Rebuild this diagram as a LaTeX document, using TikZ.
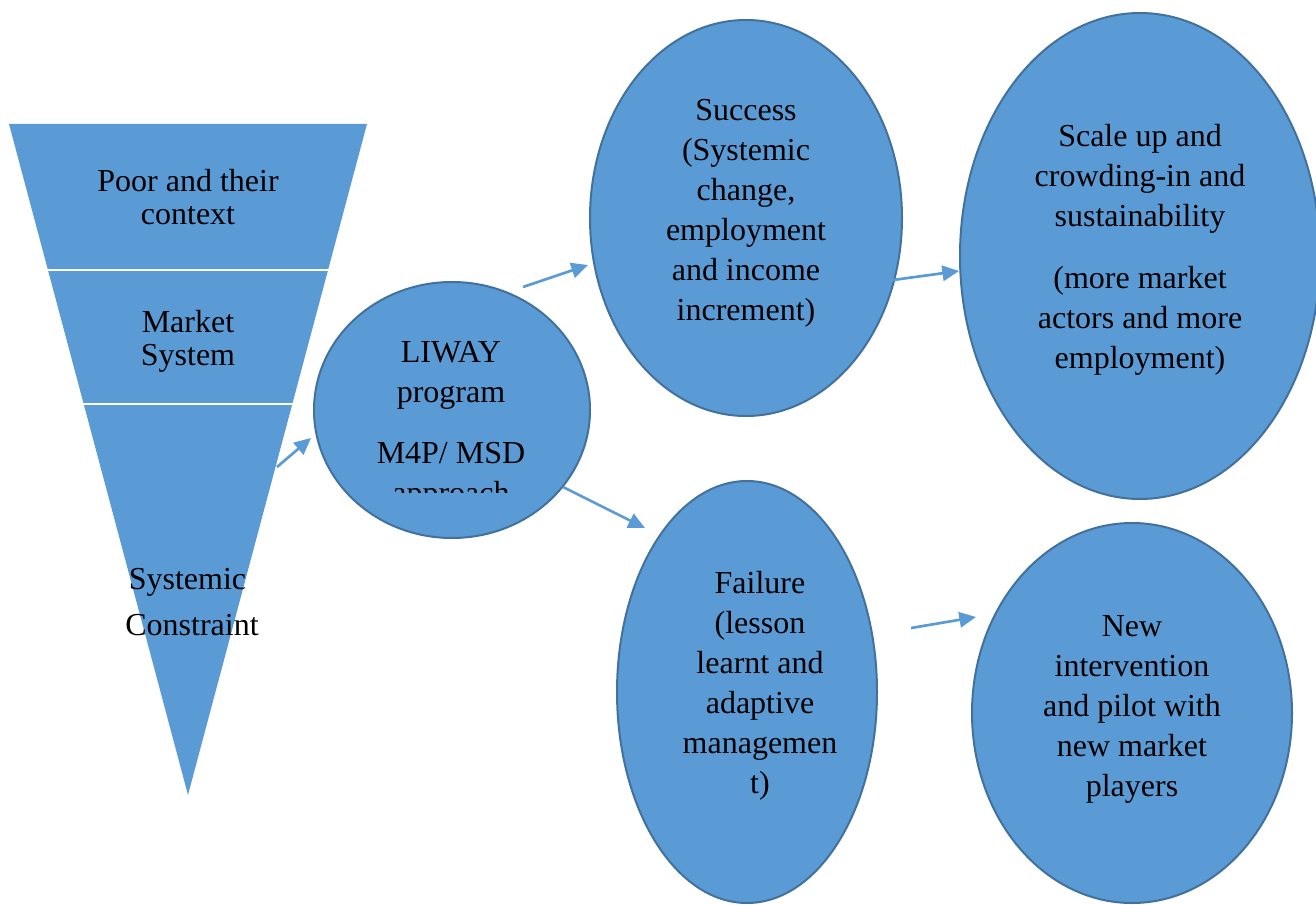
\documentclass[tikz,border=0pt]{standalone}
\usepackage{fontspec}
\setmainfont{Liberation Serif}
\usetikzlibrary{arrows.meta,shapes.geometric}
\definecolor{boxblue}{HTML}{5B9BD5}
\definecolor{edgeblue}{HTML}{41719C}
\tikzset{
  oval/.style={ellipse, draw=edgeblue, fill=boxblue, line width=1.5pt, inner sep=0pt},
  lbl/.style={align=center, inner sep=0pt, font=\fontsize{24pt}{30pt}\selectfont},
  tightlbl/.style={align=center, inner sep=0pt, font=\fontsize{24pt}{24.75pt}\selectfont},
  flow/.style={draw=boxblue, line width=2pt, -{Triangle[length=12.5pt,width=11.5pt]}}
}
\begin{document}
\begin{tikzpicture}[x=0.75pt,y=-0.75pt]
\useasboundingbox (0,0) rectangle (1316,905);
% funnel
\fill[boxblue] (9,124) -- (367,124) -- (188,795) -- cycle;
\draw[white, line width=1.6pt] (0,270) -- (345,270);
\draw[white, line width=1.6pt] (0,404) -- (300,404);
\node[tightlbl] (poor) at (188,197) {Poor and their\\context};
\node[tightlbl] (market) at (188,341) {Market\\System};
\node[lbl, anchor=base] (sys1) at (187.5,589) {Systemic};
\node[lbl, anchor=base] (sys2) at (192,635) {Constraint};
% ellipses
\node[oval, minimum width=207pt, minimum height=192pt] (liway) at (452,410) {};
\node[oval, minimum width=234pt, minimum height=297pt] (success) at (746,218) {};
\node[oval, minimum width=270pt, minimum height=364.5pt] (scale) at (1140,256) {};
\node[oval, minimum width=195pt, minimum height=316.5pt] (failure) at (747,692) {};
\node[oval, minimum width=240pt, minimum height=285pt] (new) at (1132,713) {};
% texts
\begin{scope}
\clip (314,283) rectangle (590,492);
\node[lbl] (liwaytxt) at (451,426) {LIWAY\\program\\[16pt]M4P/ MSD\\approach};
\end{scope}
\node[lbl] (successtxt) at (746,213) {Success\\(Systemic\\change,\\employment\\and income\\increment)};
\node[lbl] (scaletxt) at (1140,250) {Scale up and\\crowding-in and\\sustainability\\[16pt](more market\\actors and more\\employment)};
\node[lbl] (failuretxt) at (760,686) {Failure\\(lesson\\learnt and\\adaptive\\managemen\\t)};
\node[lbl] (newtxt) at (1132,709) {New\\intervention\\and pilot with\\new market\\players};
% arrow end points
\coordinate (a1s) at (277,467); \coordinate (a1e) at (311,438);
\coordinate (a2s) at (523,287); \coordinate (a2e) at (588,265);
\coordinate (a3s) at (563,487); \coordinate (a3e) at (645,528);
\coordinate (a4s) at (893,280); \coordinate (a4e) at (959,271);
\coordinate (a5s) at (911,628); \coordinate (a5e) at (976,617);
\draw[flow] (a1s) -- (a1e);
\draw[flow] (a2s) -- (a2e);
\draw[flow] (a3s) -- (a3e);
\draw[flow] (a4s) -- (a4e);
\draw[flow] (a5s) -- (a5e);
\end{tikzpicture}
\end{document}
